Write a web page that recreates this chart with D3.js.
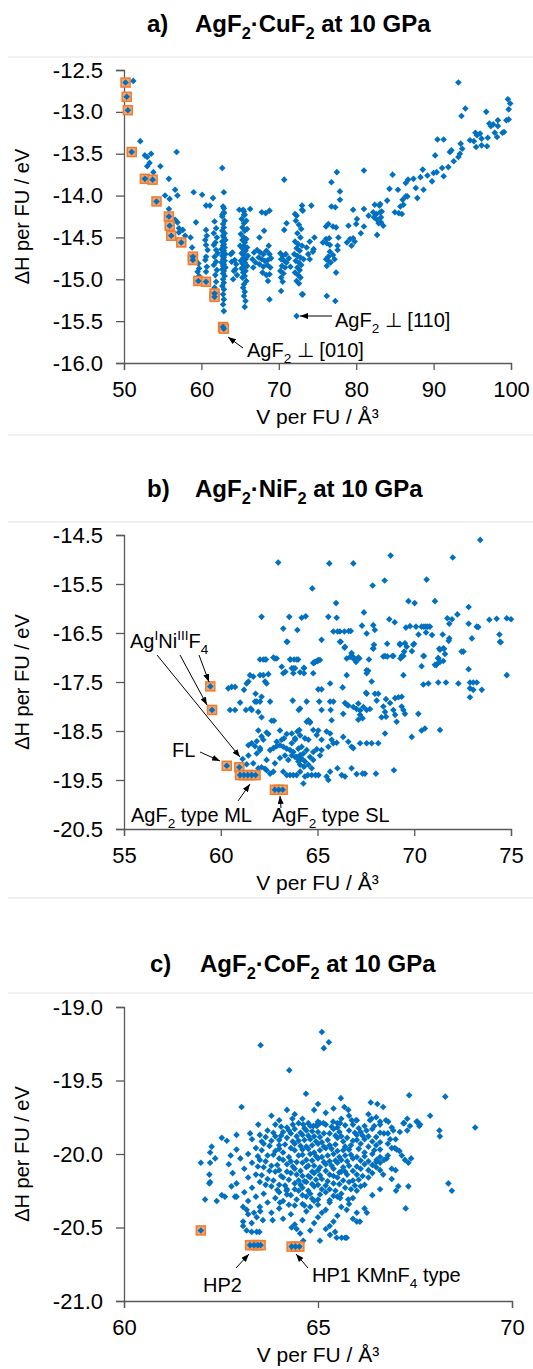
<!DOCTYPE html>
<html><head><meta charset="utf-8">
<script src="https://cdn.jsdelivr.net/npm/d3@7"></script>
<style>
body{margin:0;background:#fff}
text{font-family:"Liberation Sans",Arial,Helvetica,sans-serif}
</style>
</head><body>
<svg id="chart" width="533" height="1369"></svg>
<script>
// ---------- data: [V per FU (Å^3), ΔH per FU (eV)] ----------
const cuTicksX = [50, 60, 70, 80, 90, 100];
const cuTicksY = [-16.0, -15.5, -15.0, -14.5, -14.0, -13.5, -13.0, -12.5];
const niTicksX = [55, 60, 65, 70, 75];
const niTicksY = [-20.5, -19.5, -18.5, -17.5, -16.5, -15.5, -14.5];
const coTicksX = [60, 65, 70];
const coTicksY = [-21.0, -20.5, -20.0, -19.5, -19.0];

// AgF2·CuF2 – lowest-enthalpy structures
const cuLowest = [[50.2,-12.65],[50.35,-12.82],[50.5,-12.98],[51.0,-13.48],[52.7,-13.8],[53.7,-13.81],[54.2,-14.07],
  [55.8,-14.25],[55.9,-14.36],[56.1,-14.48],[57.4,-14.56],[58.9,-14.73],[58.9,-14.77],[59.6,-15.02],[60.6,-15.03],
  [61.7,-15.17],[61.7,-15.21],[62.8,-15.57],[62.9,-15.59]];
// AgF2·CuF2 – all other structures
const cuOther = [[51.2,-12.63],[52.1,-13.35],[52.7,-13.52],[53.0,-13.54],[53.5,-13.5],[56.8,-13.48],[53.3,-13.61],[53.0,-13.65],
  [54.7,-13.65],[53.8,-13.72],[55.8,-13.8],[62.7,-13.67],[70.7,-13.81],[56.6,-13.93],[55.3,-14.0],[56.9,-14.0],[55.9,-14.04],
  [59.0,-13.96],[60.1,-13.99],[60.6,-14.12],[61.1,-14.12],[61.5,-14.03],[62.9,-13.96],[55.8,-14.16],[62.7,-14.23],[62.9,-14.15],
  [62.9,-14.21],[65.5,-14.19],[65.5,-14.23],[64.9,-14.17],[66.3,-14.16],[68.3,-14.21],[68.8,-14.18],[72.1,-14.22],[72.3,-14.24],
  [73.0,-14.12],[73.0,-14.17],[74.2,-14.12],
  [93.2,-12.65],[94.1,-12.96],[93.6,-13.05],[96.8,-13.0],[99.6,-12.85],[99.9,-12.9],[99.7,-12.97],[99.7,-13.09],[99.4,-13.1],
  [98.3,-13.1],[97.2,-13.14],[97.7,-13.15],[97.4,-13.17],[98.3,-13.17],[95.4,-13.25],[96.0,-13.26],[95.6,-13.28],[97.9,-13.25],
  [98.2,-13.3],[98.9,-13.25],[99.1,-13.24],[94.7,-13.34],[95.2,-13.35],[96.2,-13.32],[97.0,-13.31],[95.5,-13.42],[96.2,-13.4],
  [96.9,-13.41],[90.5,-13.33],[91.3,-13.33],[93.5,-13.38],[93.7,-13.44],[93.4,-13.5],[93.2,-13.54],[92.1,-13.48],[92.3,-13.46],
  [90.2,-13.52],[92.6,-13.59],[91.9,-13.66],[91.1,-13.67],[90.0,-13.73],[90.4,-13.72],[91.3,-13.77],[88.6,-13.69],[89.2,-13.76],
  [88.3,-13.78],[87.4,-13.8],[86.7,-13.81],[86.4,-13.85],[89.8,-13.83],[84.7,-13.75],[84.3,-13.92],[85.4,-13.93],[87.7,-13.91],
  [88.7,-13.93],[87.9,-14.03],[86.6,-14.01],[86.4,-14.01],[86.0,-14.05],[85.7,-14.13],[86.1,-14.11],[85.0,-14.2],[85.5,-14.21],
  [85.9,-14.22],[84.0,-14.06],[83.1,-14.1],[82.4,-14.11],[83.0,-14.12],[83.3,-14.19],[82.6,-14.22],[83.2,-14.26],[81.6,-14.24],
  [81.0,-14.16],[79.6,-14.17],[80.1,-14.28],[77.5,-13.72],[76.8,-13.84],[77.9,-13.95],[77.9,-14.05],[76.8,-14.13],[77.3,-14.14],
  [81.0,-13.7],[73.1,-14.18],
  [76.4,-14.34],[76.1,-14.37],[77.4,-14.38],[77.0,-14.37],[79.0,-14.36],[80.0,-14.34],[80.6,-14.45],[81.0,-14.37],[82.2,-14.2],
  [82.3,-14.26],[83.1,-14.2],[82.7,-14.29],[83.2,-14.32],[82.9,-14.33],[83.5,-14.36],[82.7,-14.47],[75.7,-14.56],[76.1,-14.52],
  [76.5,-14.51],[76.2,-14.57],[76.6,-14.59],[77.7,-14.5],[77.6,-14.6],[77.6,-14.65],[78.8,-14.56],[79.2,-14.52],[79.6,-14.51],
  [79.4,-14.6],[79.8,-14.55],[76.6,-14.67],[76.4,-14.73],[77.0,-14.71],[77.2,-14.76],[76.1,-14.76],[76.7,-14.8],[76.2,-14.84],
  [77.4,-14.92],[76.5,-14.79],[74.5,-14.64],[74.0,-14.76],[74.4,-14.67],[76.2,-15.2],[77.3,-15.26],[73.1,-15.18],[72.3,-15.44],
  [56.6,-14.29],[56.9,-14.32],[57.1,-14.39],[57.6,-14.41],[57.1,-14.44],[57.9,-14.48],[59.3,-14.32],[58.6,-14.5],[58.8,-14.62],
  [59.6,-14.81],[59.7,-14.87],[59.5,-14.91],[59.7,-14.96],
  [60.6,-14.41],[60.7,-14.48],[60.5,-14.53],[60.6,-14.59],[60.8,-14.65],[60.6,-14.73],[60.5,-14.77],[60.7,-14.85],[60.6,-14.91],
  [61.7,-14.31],[61.9,-14.39],[61.6,-14.45],[62.0,-14.5],[61.8,-14.56],[61.6,-14.59],[61.9,-14.65],[62.1,-14.69],[61.7,-14.73],
  [61.9,-14.79],[61.6,-14.83],[62.0,-14.89],[61.8,-14.95],[61.9,-15.03],[61.7,-15.1],
  [62.8,-14.13],[62.9,-14.2],[62.7,-14.25],[63.0,-14.3],[62.8,-14.34],[62.9,-14.38],[62.7,-14.42],[63.0,-14.45],[62.8,-14.48],
  [62.9,-14.5],[63.1,-14.53],[62.7,-14.55],[62.9,-14.58],[62.8,-14.6],[63.0,-14.62],[62.6,-14.64],[62.9,-14.66],[62.8,-14.68],
  [63.1,-14.7],[62.7,-14.72],[62.9,-14.74],[62.8,-14.76],[63.0,-14.78],[62.6,-14.8],[62.9,-14.82],[62.8,-14.84],[63.1,-14.86],
  [62.7,-14.88],[62.9,-14.9],[62.8,-14.93],[63.0,-14.96],[62.8,-15.0],[62.9,-15.04],[62.7,-15.08],[62.9,-15.12],[62.8,-15.18],
  [62.9,-15.24],[62.8,-15.3],[62.9,-15.38],
  [63.8,-14.7],[64.0,-14.68],[63.9,-14.79],[64.3,-14.77],[64.5,-14.82],[64.2,-14.9],[64.6,-14.95],[64.1,-15.0],[64.4,-14.88],
  [65.4,-14.17],[65.6,-14.23],[65.2,-14.28],[65.8,-14.3],[65.5,-14.33],[65.3,-14.38],[65.9,-14.4],[65.6,-14.42],[65.1,-14.46],
  [65.5,-14.5],[65.8,-14.52],[65.3,-14.53],[65.6,-14.56],[65.0,-14.6],[65.5,-14.6],[65.9,-14.62],[65.3,-14.63],[65.7,-14.66],
  [65.2,-14.69],[65.5,-14.7],[66.0,-14.72],[65.4,-14.75],[65.7,-14.76],[65.1,-14.78],[65.6,-14.8],[65.3,-14.81],[65.9,-14.84],
  [65.5,-14.85],[65.2,-14.87],[65.7,-14.9],[65.4,-14.92],[65.6,-14.96],[65.3,-14.98],[65.8,-15.02],[65.5,-15.06],[65.4,-15.1],
  [65.6,-15.15],[65.5,-15.2],[65.7,-15.26],[65.6,-15.33],
  [66.8,-14.68],[66.6,-14.76],[67.0,-14.8],[66.7,-14.86],
  [67.2,-14.65],[67.6,-14.68],[68.0,-14.7],[68.4,-14.66],[68.8,-14.7],[67.4,-14.74],[67.8,-14.76],[68.2,-14.78],[68.6,-14.77],
  [69.0,-14.75],[67.5,-14.82],[68.0,-14.85],[68.5,-14.83],[68.9,-14.86],[67.9,-14.92],[68.4,-14.95],[68.8,-14.94],[68.6,-15.02],
  [68.7,-14.6],[68.8,-15.24],[67.8,-14.2],[68.1,-14.42],[67.5,-14.5],
  [70.2,-14.69],[70.5,-14.72],[70.9,-14.7],[70.3,-14.76],[70.7,-14.78],[71.0,-14.8],[70.4,-14.84],[70.8,-14.86],[70.2,-14.9],
  [70.6,-14.93],[70.3,-14.98],[70.5,-15.03],[70.3,-15.14],[70.7,-14.41],[71.0,-14.33],[71.3,-14.75],[71.5,-14.85],
  [72.2,-14.3],[72.6,-14.35],[72.9,-14.4],[72.4,-14.45],[72.8,-14.5],[72.1,-14.55],[72.5,-14.58],[73.0,-14.6],[72.3,-14.63],
  [72.7,-14.66],[72.0,-14.7],[72.4,-14.72],[72.8,-14.74],[73.2,-14.76],[72.2,-14.78],[72.6,-14.8],[72.9,-14.83],[72.4,-14.86],
  [72.7,-14.89],[72.1,-14.92],[72.5,-14.95],[72.8,-14.98],[72.3,-15.02],[72.6,-15.05],[73.0,-15.18],[73.6,-14.62],[74.0,-14.55],
  [73.8,-14.7],[74.6,-14.5]];

// AgF2·NiF2 – lowest-enthalpy structures
const niLowest = [[59.46,-17.59],[59.55,-18.07],[60.31,-19.21],[60.96,-19.24],
  [61.0,-19.4],[61.2,-19.4],[61.4,-19.4],[61.6,-19.4],[61.8,-19.4],[62.8,-19.7],[63.0,-19.7],[63.2,-19.7]];
// AgF2·NiF2 – all other structures
const niOther = [[62.97,-15.06],[64.73,-15.59],[62.11,-16.17],[63.54,-16.17],[64.18,-16.19],[64.39,-16.16],[63.23,-16.41],
  [63.96,-16.44],[63.44,-16.68],[62.03,-17.04],[62.2,-17.04],[62.34,-17.04],[62.8,-17.02],[62.89,-17.02],[63.61,-17.04],
  [63.79,-17.04],[64.0,-17.04],[63.15,-17.19],[63.75,-17.22],[64.3,-17.21],[64.78,-17.11],[64.98,-17.07],
  [73.41,-14.6],[65.61,-15.08],[66.85,-15.08],[68.78,-14.92],[71.99,-14.96],[67.85,-15.53],[68.47,-15.43],[70.64,-15.41],
  [65.96,-15.89],[69.7,-15.85],[70.02,-15.89],[71.07,-15.85],[72.81,-15.97],[67.4,-16.08],[72.23,-16.12],[71.71,-16.2],
  [71.95,-16.22],[71.81,-16.31],[73.88,-16.23],[74.26,-16.21],[74.78,-16.2],[75.0,-16.22],[72.81,-16.31],[73.23,-16.37],
  [73.31,-16.38],[65.56,-16.17],[65.99,-16.19],[68.71,-16.22],[68.99,-16.28],[67.3,-16.35],[67.54,-16.51],[67.88,-16.34],
  [67.96,-16.44],[65.82,-16.47],[66.04,-16.47],[66.16,-16.47],[66.39,-16.47],[66.61,-16.46],[66.72,-16.46],
  [69.57,-16.39],[69.78,-16.36],[70.09,-16.37],[70.38,-16.37],[70.5,-16.37],[70.6,-16.37],[70.7,-16.37],[70.81,-16.37],
  [70.61,-16.49],[70.22,-16.53],[70.92,-16.54],[71.47,-16.53],[71.81,-16.61],[71.78,-16.66],[72.98,-16.61],[74.4,-16.53],
  [74.47,-16.69],[65.21,-16.64],[66.2,-16.68],[66.4,-16.8],[67.92,-16.74],[67.88,-16.82],[68.6,-16.72],[69.26,-16.72],
  [69.61,-16.78],[69.99,-16.72],[69.48,-16.88],[69.35,-16.97],[69.29,-17.02],[69.88,-16.87],[70.5,-16.97],[71.29,-16.82],
  [71.54,-16.82],[71.59,-16.93],[71.24,-17.01],[71.5,-17.07],[71.16,-17.14],[72.54,-16.88],[66.76,-16.91],[66.51,-17.02],
  [66.85,-17.02],[67.02,-17.04],[67.16,-17.02],[66.99,-17.09],[67.66,-17.04],[68.4,-16.98],[68.61,-16.98],[68.87,-16.97],
  [64.82,-17.11],[65.01,-17.07],[64.3,-17.22],[70.38,-17.18],[71.14,-17.15],[72.81,-17.24],[67.54,-17.26],
  [62.29,-17.04],[62.72,-17.0],[63.58,-17.04],[63.93,-17.04],[65.04,-17.05],[65.13,-17.05],[66.68,-16.99],[66.85,-16.99],
  [67.11,-17.0],[68.49,-16.97],[68.92,-16.97],[69.44,-16.97],[70.47,-16.97],[71.24,-17.02],[72.45,-16.88],[74.43,-16.68],
  [74.78,-17.36],[72.88,-17.51],[73.05,-17.51],[73.23,-17.51],[72.88,-17.63],[73.05,-17.66],[73.49,-17.66],[72.88,-17.81],
  [70.47,-17.55],[70.73,-17.53],[71.24,-17.51],[71.64,-17.51],[72.28,-17.53],
  [71.33,-18.48],[70.38,-18.49],[70.55,-18.45],[69.87,-18.62],[70.21,-18.15],[69.44,-17.36],
  [69.35,-17.8],[69.18,-17.81],[69.01,-17.83],[68.75,-17.93],[68.54,-17.85],[68.4,-18.0],[68.49,-18.11],[68.92,-18.07],
  [69.01,-18.17],[68.54,-18.21],[68.31,-18.22],[69.09,-18.31],[69.44,-18.07],[69.52,-18.15],[69.35,-18.0],
  [67.88,-16.81],[68.14,-17.74],[67.97,-17.74],[67.54,-17.74],[68.06,-17.88],[67.71,-18.05],[67.37,-18.01],[67.11,-17.94],
  [67.02,-18.05],[67.2,-18.08],[66.85,-18.01],[66.59,-17.98],[66.51,-17.96],[67.33,-18.24],[67.11,-18.27],[67.2,-18.17],
  [67.54,-18.07],[67.54,-17.32],[67.62,-17.27],[67.8,-17.49],[67.51,-17.72],[66.51,-17.36],[65.65,-17.53],[66.3,-17.61],
  [65.04,-17.65],[65.21,-17.65],[65.65,-17.9],[65.82,-17.9],[65.09,-17.9],[65.21,-18.07],[65.68,-18.07],[65.73,-18.28],
  [66.33,-18.15],[66.42,-17.93],[64.44,-17.9],[64.1,-18.04],[64.03,-18.07],[64.53,-18.28],[64.44,-18.31],[64.61,-18.31],
  [64.78,-17.32],[64.3,-17.32],[64.1,-17.3],[63.75,-17.32],[63.67,-17.22],[63.84,-17.22],[63.23,-17.32],[63.34,-17.29],
  [64.87,-17.09],[63.72,-17.88],[62.75,-18.29],[62.63,-18.29],
  [62.2,-17.36],[62.46,-17.34],[62.03,-17.36],[61.51,-17.36],[61.43,-17.49],[61.34,-17.53],[61.68,-17.39],[62.29,-17.49],
  [62.37,-17.53],[61.8,-17.74],[62.11,-17.8],[62.03,-17.9],[61.86,-17.9],[61.77,-17.9],[62.55,-17.9],[61.2,-17.66],
  [61.0,-17.92],[61.55,-18.04],[61.3,-18.07],[60.74,-18.07],[60.48,-18.07],[60.39,-17.63],[60.56,-17.6],[60.74,-17.6],
  [62.11,-18.22],[61.6,-18.07],[61.94,-18.11],
  [61.94,-18.49],[62.37,-18.53],[62.46,-18.56],[62.11,-18.61],[62.2,-18.68],[61.86,-18.71],[61.6,-18.75],[61.43,-18.79],
  [61.77,-18.81],[62.03,-18.85],[62.55,-18.89],[62.72,-18.85],[63.06,-18.49],[63.15,-18.68],[62.89,-18.81],[63.27,-18.65],
  [63.41,-18.56],[63.67,-18.55],[63.84,-18.68],[63.96,-18.51],[64.06,-18.48],[63.67,-18.75],
  [64.61,-18.33],[64.78,-18.48],[65.04,-18.49],[64.96,-18.58],[65.21,-18.68],[65.47,-18.51],[65.65,-18.55],[65.73,-18.68],
  [65.82,-18.75],[65.56,-18.82],[66.33,-18.62],[66.59,-18.72],[66.76,-18.82],[67.2,-18.75],[67.54,-18.75],[67.8,-18.75],
  [68.14,-18.75],[66.85,-18.85],[68.49,-18.55],[65.99,-18.74],
  [68.95,-19.3],[68.02,-19.37],[67.45,-19.37],[67.33,-19.37],[67.02,-19.38],[66.76,-19.26],[66.03,-19.26],[66.25,-19.4],
  [66.42,-19.43],[65.65,-19.33],[65.47,-19.43],[65.56,-19.5],[64.27,-19.57],[64.35,-19.43],[64.1,-19.33],[63.92,-19.4],
  [63.58,-19.4],[63.41,-19.4],[63.23,-19.33],[63.75,-19.4],[64.5,-19.4],[64.7,-19.4],[64.9,-19.4],[65.05,-19.4],
  [62.37,-19.3],[62.55,-19.37],[62.72,-19.33],[62.29,-19.27],[62.11,-19.24],[61.94,-19.26],[61.68,-19.16],[61.43,-19.0],
  [61.86,-18.96],[62.03,-18.89],[62.37,-19.09],[62.8,-19.16],[63.06,-19.05],[63.32,-19.0],[63.49,-19.09],[63.67,-19.0],
  [63.84,-19.03],[64.1,-19.09],[64.27,-18.96],[64.44,-18.89],[64.61,-19.03],[64.78,-18.93],[64.96,-18.87],[65.13,-19.0],
  [65.21,-18.89],[64.78,-19.09],[64.3,-19.23],[64.1,-18.99],[64.18,-19.06],[64.01,-19.12],[63.92,-19.03],[63.75,-18.93],
  [63.58,-18.89],[63.41,-18.86],[63.23,-18.82],[63.06,-18.79],[62.89,-18.72],[63.84,-18.65],[64.1,-18.59],[64.35,-18.65],
  [64.53,-18.68],[64.18,-18.82],[64.01,-18.86],[64.35,-19.12],[64.53,-19.19],[64.7,-19.26],[64.1,-19.19],
  [61.13,-19.07],[61.34,-19.18],[63.41,-16.68],[66.16,-16.68],[66.42,-16.78],[69.26,-16.74],[69.52,-16.71],[69.95,-16.74],
  [71.5,-16.81],[71.33,-16.84],[71.33,-17.09],[71.07,-17.15]];

// AgF2·CoF2 – lowest-enthalpy structures
const coLowest = [[61.98,-20.52],[63.25,-20.62],[63.35,-20.62],[63.45,-20.62],[63.52,-20.62],
  [64.32,-20.63],[64.42,-20.63],[64.52,-20.63]];
// AgF2·CoF2 – all other structures
const coOther = [[63.52,-19.26],[64.26,-19.43],[64.69,-19.59],[63.03,-19.68],[64.34,-19.76],[63.46,-19.8],[65.1,-19.17],
  [65.15,-19.28],[65.28,-19.24],[65.59,-19.62],[65.68,-19.68],[65.78,-19.7],[66.36,-19.65],[66.53,-19.66],[66.68,-19.68],
  [67.35,-19.6],[68.28,-19.61],[67.89,-19.74],[69.05,-19.82],[65.87,-19.77],[65.98,-19.77],[66.34,-19.77],[66.38,-19.76],
  [66.6,-19.78],[66.75,-19.77],[66.81,-19.78],[67.3,-19.76],[67.22,-19.79],[67.56,-19.78],[67.61,-19.81],[65.39,-19.78],
  [65.5,-19.79],[65.57,-19.79],[64.62,-19.8],[64.75,-19.79],[64.88,-19.81],[65.05,-19.79],[65.14,-19.79],[64.97,-19.81],
  [68.13,-19.84],[68.14,-19.88],[68.36,-20.2],[68.45,-20.25],[67.26,-20.37],[67.33,-20.22],[67.01,-20.25],[67.07,-20.22],
  [67.33,-20.06],[67.24,-20.04],[67.16,-20.01],[67.03,-19.97],[67.63,-19.8],[67.54,-19.78],[67.37,-19.81],[67.2,-19.79],
  [67.11,-19.85],[66.94,-19.84],[66.86,-19.9],[66.98,-19.96],[66.77,-20.03],[66.9,-20.1],[66.68,-20.14],[66.6,-20.11],
  [66.51,-20.04],[66.26,-20.4],[66.08,-20.46],[66.0,-20.46],[65.74,-20.38],[65.78,-20.31],[65.57,-20.3],[65.48,-20.57],
  [65.61,-20.57],[65.7,-20.57],[65.74,-20.57],[65.31,-20.55],[65.44,-20.53],[65.05,-20.59],[64.62,-20.59],[64.45,-20.51],
  [64.32,-20.5],[64.54,-20.54],[63.58,-20.45],[63.83,-20.45],[64.02,-20.33],[64.19,-20.25],
  [63.07,-20.49],[63.16,-20.52],[63.29,-20.53],[63.42,-20.53],[63.49,-20.53],[63.29,-20.47],[63.42,-20.43],[63.07,-20.46],
  [63.16,-20.38],[63.07,-20.36],[63.2,-20.41],[63.51,-20.39],[63.35,-20.4],
  [62.09,-20.31],[62.39,-20.32],[62.52,-20.28],[62.6,-20.29],[62.86,-20.29],[62.9,-20.29],[62.77,-20.22],[62.75,-20.01],
  [62.65,-19.91],[62.52,-19.89],[62.35,-20.03],[62.22,-19.99],[62.26,-19.95],[62.22,-20.06],[62.2,-20.14],[62.2,-20.2],
  [62.22,-20.19],[61.98,-20.06],[62.9,-19.87],[63.25,-19.86],
  [63.9,-19.80],[64.2,-19.82],[64.5,-19.79],[64.8,-19.81],[65.2,-19.80],[65.5,-19.82],[65.9,-19.80],[66.2,-19.81],[66.6,-19.80],
  [66.9,-19.82],[63.7,-19.84],[64.1,-19.85],[64.4,-19.83],[64.7,-19.84],[65.0,-19.85],[65.4,-19.83],[65.8,-19.84],[66.1,-19.85],
  [66.4,-19.83],[66.8,-19.86],[67.3,-19.84],[63.5,-19.87],[63.9,-19.88],[64.3,-19.86],[64.6,-19.87],[64.9,-19.88],[65.3,-19.86],
  [65.6,-19.88],[66.0,-19.87],[66.3,-19.88],[66.7,-19.86],[63.3,-19.90],[63.8,-19.91],[64.2,-19.89],[64.5,-19.91],[64.8,-19.90],
  [65.1,-19.92],[65.5,-19.89],[65.9,-19.91],[66.2,-19.90],[66.6,-19.92],[67.0,-19.90],[63.6,-19.93],[64.0,-19.94],[64.4,-19.93],
  [64.7,-19.95],[65.0,-19.93],[65.3,-19.94],[65.7,-19.95],[66.1,-19.93],[66.5,-19.94],[66.9,-19.96],[62.9,-19.97],[63.4,-19.96],
  [63.9,-19.98],[64.3,-19.96],[64.6,-19.97],[64.9,-19.99],[65.2,-19.96],[65.5,-19.98],[65.8,-19.97],[66.2,-19.99],[66.6,-19.97],
  [67.1,-19.98],[63.2,-20.00],[63.7,-20.01],[64.1,-19.99],[64.5,-20.01],[64.8,-20.00],[65.1,-20.02],[65.4,-20.00],[65.7,-20.01],
  [66.0,-20.02],[66.4,-20.00],[66.8,-20.01],[63.0,-20.03],[63.5,-20.04],[64.0,-20.03],[64.3,-20.05],[64.7,-20.04],[65.0,-20.03],
  [65.3,-20.05],[65.6,-20.04],[65.9,-20.03],[66.3,-20.05],[66.7,-20.04],[67.4,-20.03],[62.7,-20.07],[63.3,-20.06],[63.8,-20.08],
  [64.2,-20.07],[64.6,-20.06],[64.9,-20.08],[65.2,-20.07],[65.5,-20.06],[65.8,-20.08],[66.2,-20.07],[66.6,-20.06],[63.1,-20.10],
  [63.6,-20.09],[64.0,-20.11],[64.4,-20.10],[64.7,-20.09],[65.0,-20.11],[65.4,-20.10],[65.7,-20.12],[66.1,-20.10],[66.5,-20.09],
  [67.0,-20.11],[62.8,-20.13],[63.4,-20.14],[63.9,-20.12],[64.3,-20.13],[64.6,-20.15],[64.9,-20.13],[65.3,-20.14],[65.6,-20.12],
  [66.0,-20.14],[66.4,-20.13],[63.2,-20.16],[63.7,-20.17],[64.1,-20.16],[64.5,-20.18],[64.8,-20.16],[65.1,-20.17],[65.5,-20.16],
  [65.9,-20.18],[66.3,-20.16],[66.9,-20.17],[62.9,-20.20],[63.5,-20.19],[64.0,-20.21],[64.4,-20.20],[64.7,-20.19],[65.0,-20.21],
  [65.4,-20.20],[65.8,-20.19],[66.2,-20.21],[63.3,-20.23],[63.8,-20.22],[64.2,-20.24],[64.6,-20.23],[64.9,-20.22],[65.3,-20.24],
  [65.7,-20.23],[66.1,-20.22],[66.6,-20.24],[63.1,-20.26],[63.6,-20.27],[64.0,-20.26],[64.5,-20.25],[64.8,-20.27],[65.2,-20.26],
  [65.6,-20.27],[66.0,-20.25],[63.4,-20.29],[63.9,-20.30],[64.3,-20.28],[64.7,-20.29],[65.0,-20.31],[65.5,-20.29],[65.9,-20.30],
  [66.4,-20.28],[63.2,-20.32],[63.7,-20.33],[64.1,-20.32],[64.6,-20.34],[64.9,-20.32],[65.3,-20.33],[65.8,-20.34],[63.5,-20.36],
  [64.0,-20.37],[64.4,-20.35],[64.8,-20.36],[65.2,-20.38],[65.6,-20.36],[66.2,-20.37],[63.8,-20.40],[64.3,-20.41],[64.7,-20.39],
  [65.1,-20.40],[65.5,-20.42],[66.0,-20.40],[64.1,-20.44],[64.6,-20.45],[65.0,-20.43],[65.4,-20.46],[65.9,-20.44],[64.4,-20.48],
  [64.9,-20.47],[65.3,-20.49],[64.8,-20.52],[65.2,-20.51],[64.0,-19.77],[64.6,-19.76],[65.0,-19.78],[65.6,-19.76],[66.0,-19.77],
  [66.5,-19.75],[64.4,-19.73],[65.2,-19.72],[65.8,-19.74],[66.3,-19.73],[64.9,-19.70],[65.4,-19.69],[65.0,-19.66],[64.2,-19.7],
  [63.8,-19.74],
  [64.05,-19.815],[64.35,-19.80],[64.65,-19.825],[64.95,-19.805],[65.35,-19.815],[65.7,-19.805],[66.05,-19.825],[66.45,-19.81],
  [63.85,-19.855],[64.25,-19.84],[64.55,-19.855],[64.85,-19.845],[65.15,-19.86],[65.55,-19.85],[65.95,-19.855],[66.25,-19.84],
  [66.6,-19.855],[63.65,-19.885],[64.05,-19.875],[64.45,-19.88],[64.75,-19.875],[65.05,-19.885],[65.45,-19.875],[65.75,-19.89],
  [66.15,-19.875],[66.5,-19.885],[63.55,-19.915],[64.0,-19.905],[64.35,-19.915],[64.65,-19.905],[64.95,-19.915],[65.25,-19.905],
  [65.65,-19.915],[66.0,-19.905],[66.4,-19.915],[66.8,-19.93],[63.75,-19.945],[64.15,-19.935],[64.55,-19.945],[64.85,-19.94],
  [65.15,-19.95],[65.45,-19.935],[65.85,-19.94],[66.3,-19.95],[63.55,-19.975],[64.0,-19.965],[64.4,-19.975],[64.75,-19.965],
  [65.05,-19.975],[65.35,-19.965],[65.65,-19.975],[66.05,-19.965],[66.45,-19.975],[63.45,-20.015],[63.85,-20.005],[64.25,-20.02],
  [64.6,-20.005],[64.95,-20.015],[65.25,-20.01],[65.55,-20.02],[65.85,-20.005],[66.2,-20.015],[66.6,-20.02],[63.65,-20.05],
  [64.1,-20.04],[64.45,-20.055],[64.85,-20.045],[65.15,-20.055],[65.45,-20.045],[65.75,-20.05],[66.1,-20.045],[66.5,-20.055],
  [63.45,-20.085],[63.95,-20.075],[64.35,-20.085],[64.75,-20.08],[65.05,-20.09],[65.35,-20.08],[65.65,-20.09],[66.0,-20.085],
  [66.4,-20.075],[63.75,-20.115],[64.2,-20.12],[64.55,-20.115],[64.85,-20.12],[65.2,-20.115],[65.55,-20.125],[65.9,-20.115],
  [66.3,-20.11],[63.55,-20.145],[64.05,-20.15],[64.45,-20.14],[64.75,-20.15],[65.05,-20.145],[65.4,-20.15],[65.75,-20.14],
  [66.15,-20.15],[63.85,-20.18],[64.25,-20.175],[64.65,-20.185],[64.95,-20.175],[65.25,-20.185],[65.65,-20.18],[66.05,-20.175],
  [63.65,-20.21],[64.15,-20.215],[64.55,-20.21],[64.85,-20.205],[65.2,-20.215],[65.55,-20.205],[65.95,-20.215],[63.95,-20.245],
  [64.4,-20.24],[64.75,-20.25],[65.1,-20.24],[65.45,-20.25],[65.85,-20.24],[64.2,-20.275],[64.6,-20.28],[65.05,-20.275],
  [65.4,-20.285],[64.45,-20.31],[64.85,-20.305],[65.3,-20.315],[64.25,-20.345],[64.65,-20.35],[65.0,-20.345]];

// ---------- drawing ----------
const BLUE = "#0070c0", ORANGE = "#ed7d31", AXIS = "#595959";
const svg = d3.select("#chart");
svg.append("rect").attr("width", 533).attr("height", 1369).attr("fill", "#fff");

const defs = svg.append("defs");
defs.append("marker").attr("id", "arrow").attr("viewBox", "0 0 8 6")
  .attr("refX", 8).attr("refY", 3).attr("markerWidth", 8).attr("markerHeight", 6)
  .attr("markerUnits", "userSpaceOnUse").attr("orient", "auto")
  .append("path").attr("d", "M0,0L8,3L0,6Z").attr("fill", "#000");

// light rules separating the three panels
[57, 435, 522, 898, 993].forEach(yy =>
  svg.append("line").attr("x1", 8).attr("x2", 533).attr("y1", yy).attr("y2", yy)
    .attr("stroke", "#e3e3e3").attr("stroke-width", 1));

// text with sub/superscript runs: parts = [[string, null|"sub"|"sup"], ...]
function rich(g, x, y, parts, size, weight, anchor) {
  const t = g.append("text").attr("x", x).attr("y", y).attr("font-size", size)
    .attr("font-weight", weight || "normal").attr("fill", "#000").attr("text-anchor", anchor || "start");
  let shift = 0;
  parts.forEach(([s, kind]) => {
    const target = kind === "sub" ? size * 0.28 : kind === "sup" ? -size * 0.38 : 0;
    t.append("tspan").attr("dy", target - shift).attr("font-size", kind ? size * 0.68 : size).text(s);
    shift = target;
  });
  return t;
}

function arrow(g, x1, y1, x2, y2) {
  g.append("line").attr("x1", x1).attr("y1", y1).attr("x2", x2).attr("y2", y2)
    .attr("stroke", "#000").attr("stroke-width", 1).attr("marker-end", "url(#arrow)");
}

const diamond = "M0,-3.3L3.3,0L0,3.3L-3.3,0Z";

function panel(p) {
  const g = svg.append("g");
  const x = d3.scaleLinear().domain(p.xDomain).range([124, p.right]);
  const y = d3.scaleLinear().domain(p.yDomain).range([p.bottom, p.top]);

  // title
  rich(g, p.titleX, p.titleY, [[p.letter, null]], 24, "bold");
  rich(g, p.titleX2, p.titleY, p.title, 24, "bold");

  // axes
  const ax = g.append("g").attr("transform", `translate(0,${p.bottom})`)
    .call(d3.axisBottom(x).tickValues(p.xTicks).tickSize(7).tickPadding(11).tickFormat(d => String(d)));
  const ay = g.append("g").attr("transform", "translate(124,0)")
    .call(d3.axisLeft(y).tickValues(p.yTicks).tickSize(8).tickPadding(13).tickFormat(d => d.toFixed(1)));
  [ax, ay].forEach(a => {
    a.selectAll("path,line").attr("stroke", AXIS).attr("stroke-width", 1.3);
    a.selectAll("text").attr("font-size", 22).attr("fill", "#000")
      .attr("font-family", '"Liberation Sans",Arial,sans-serif');
  });

  // axis titles
  rich(g, (124 + p.right) / 2, p.bottom + 61, [["V per FU / Å³", null]], 21, "normal", "middle");
  g.append("text").attr("transform", `translate(29,${(p.top + p.bottom) / 2}) rotate(-90)`)
    .attr("text-anchor", "middle").attr("font-size", 20).attr("fill", "#000").text("ΔH per FU / eV");

  // points
  g.append("g").selectAll("path").data(p.other).join("path")
    .attr("d", diamond).attr("fill", BLUE)
    .attr("transform", d => `translate(${x(d[0])},${y(d[1])})`);
  g.append("g").selectAll("rect").data(p.lowest).join("rect")
    .attr("x", d => x(d[0]) - 4.5).attr("y", d => y(d[1]) - 4.5).attr("width", 9).attr("height", 9)
    .attr("fill", "#f4a46e").attr("stroke", ORANGE).attr("stroke-width", 1.5);
  g.append("g").selectAll("path").data(p.lowest).join("path")
    .attr("d", diamond).attr("fill", BLUE)
    .attr("transform", d => `translate(${x(d[0])},${y(d[1])})`);

  p.notes(g);
}

panel({
  top: 70, bottom: 363, right: 511, xDomain: [50, 100], yDomain: [-16, -12.5],
  xTicks: cuTicksX, yTicks: cuTicksY, other: cuOther, lowest: cuLowest,
  letter: "a)", titleX: 147, titleX2: 195, titleY: 32,
  title: [["AgF", null], ["2", "sub"], ["·CuF", null], ["2", "sub"], [" at 10 GPa", null]],
  notes: g => {
    rich(g, 335, 327, [["AgF", null], ["2", "sub"], [" ⊥ [110]", null]], 20);
    arrow(g, 332, 316, 300, 316);
    rich(g, 247, 357, [["AgF", null], ["2", "sub"], [" ⊥ [010]", null]], 20);
    arrow(g, 243, 348, 228, 337);
  }
});

panel({
  top: 535, bottom: 829, right: 511, xDomain: [55, 75], yDomain: [-20.5, -14.5],
  xTicks: niTicksX, yTicks: niTicksY, other: niOther, lowest: niLowest,
  letter: "b)", titleX: 147, titleX2: 195, titleY: 497,
  title: [["AgF", null], ["2", "sub"], ["·NiF", null], ["2", "sub"], [" at 10 GPa", null]],
  notes: g => {
    rich(g, 130, 648, [["Ag", null], ["I", "sup"], ["Ni", null], ["III", "sup"], ["F", null], ["4", "sub"]], 20);
    arrow(g, 157, 655, 240, 757);
    arrow(g, 180, 655, 207, 705);
    arrow(g, 199, 655, 209, 682);
    rich(g, 172, 757, [["FL", null]], 20);
    arrow(g, 200, 752, 220, 761);
    rich(g, 131, 822, [["AgF", null], ["2", "sub"], [" type ML", null]], 20);
    arrow(g, 238, 801, 250, 784);
    rich(g, 272, 822, [["AgF", null], ["2", "sub"], [" type SL", null]], 20);
    arrow(g, 281, 808, 280, 796);
  }
});

panel({
  top: 1007, bottom: 1301, right: 512, xDomain: [60, 70], yDomain: [-21, -19],
  xTicks: coTicksX, yTicks: coTicksY, other: coOther, lowest: coLowest,
  letter: "c)", titleX: 150, titleX2: 200, titleY: 972,
  title: [["AgF", null], ["2", "sub"], ["·CoF", null], ["2", "sub"], [" at 10 GPa", null]],
  notes: g => {
    rich(g, 203, 1292, [["HP2", null]], 20);
    arrow(g, 236, 1268, 249, 1254);
    rich(g, 312, 1282, [["HP1 KMnF", null], ["4", "sub"], [" type", null]], 20);
    arrow(g, 308, 1268, 296, 1254);
  }
});
</script>
</body></html>
